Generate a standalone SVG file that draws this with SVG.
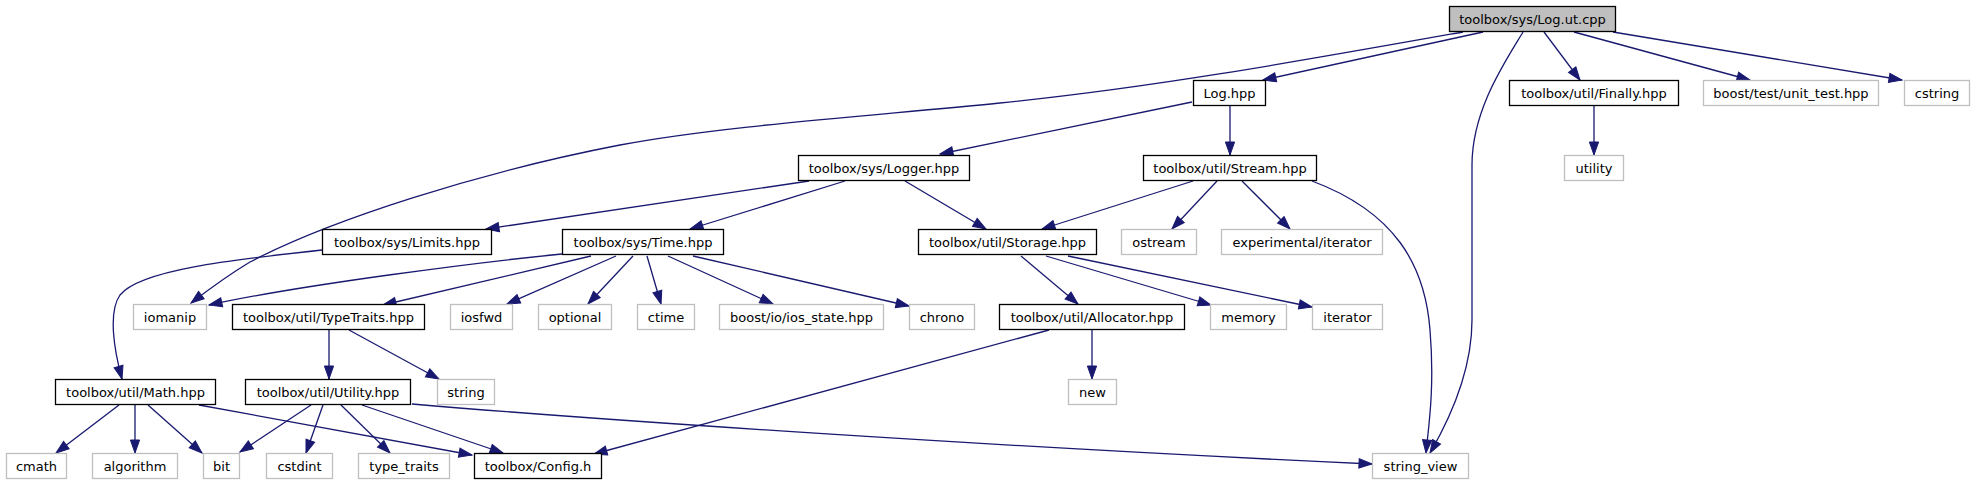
<svg xmlns="http://www.w3.org/2000/svg" width="1975" height="485" viewBox="0 0 1975 485">
<style>
.n rect{fill:#fff;stroke:#000;stroke-width:1.3}
.e rect{fill:#fff;stroke:#bfbfbf;stroke-width:1.3}
.r rect{fill:#bfbfbf;stroke:#000;stroke-width:1.3}
text{font-family:"DejaVu Sans","Liberation Sans",sans-serif;font-size:13px;fill:#000;text-anchor:middle}
#edges path{fill:none;stroke:#191970;stroke-width:1.3;marker-end:url(#a)}
</style>
<defs>
<marker id="a" markerUnits="userSpaceOnUse" markerWidth="14" markerHeight="10" refX="13" refY="5" orient="auto" viewBox="0 0 14 10" overflow="visible">
<path d="M0,0.4 L13,5 L0,9.6z" fill="#191970" stroke="#191970" stroke-width="1"/>
</marker>
</defs>
<rect width="1975" height="485" fill="#fff"/>
<g id="edges">
<path d="M1463,32 C1300,61 1150,88 1000,103 C870,116 720,126 620,145 C480,172 330,220 250,262 C230,274 208,290 191,303"/>
<path d="M1483,32 L1263,80"/>
<path d="M1523,32 C1505,62 1472,110 1472,165 L1472,320 C1472,365 1455,410 1430,453"/>
<path d="M1544,32 L1580,80"/>
<path d="M1574,32 L1750,80"/>
<path d="M1613,32 L1902,80"/>
<path d="M1192,102 L940,154"/>
<path d="M1230,106 L1230,155"/>
<path d="M1594,106 L1594,155"/>
<path d="M809,181 L486,229"/>
<path d="M845,181 L690,229"/>
<path d="M905,181 L986,229"/>
<path d="M1193,181 L1042,229"/>
<path d="M1217,181 L1172,229"/>
<path d="M1242,181 L1290,229"/>
<path d="M1312,181 C1395,212 1425,265 1430,330 C1435,390 1428,430 1426,453"/>
<path d="M322,250 C230,260 140,270 120,295 C108,312 114,350 122,379"/>
<path d="M562,254 C480,262 300,285 209,305"/>
<path d="M591,256 L383,305"/>
<path d="M616,256 L507,304"/>
<path d="M633,256 L588,304"/>
<path d="M647,256 L661,304"/>
<path d="M668,256 L773,304"/>
<path d="M693,256 L909,306"/>
<path d="M1021,256 L1078,304"/>
<path d="M1046,256 L1211,305"/>
<path d="M1068,256 L1312,307"/>
<path d="M329,330 L329,379"/>
<path d="M349,330 L439,379"/>
<path d="M1092,330 L1092,379"/>
<path d="M1049,330 L594,454"/>
<path d="M119,405 L56,453"/>
<path d="M135,405 L135,453"/>
<path d="M148,405 L202,453"/>
<path d="M199,405 L472,455"/>
<path d="M311,405 L240,452"/>
<path d="M323,405 L306,453"/>
<path d="M341,405 L390,453"/>
<path d="M362,405 L503,453"/>
<path d="M412,404 C600,420 1000,447 1372,464"/>
</g>
<g id="n_log_ut" class="r"><rect x="1449.5" y="6.5" width="166" height="25"/><text x="1532.5" y="23.5">toolbox/sys/Log.ut.cpp</text></g>
<g id="n_log_hpp" class="n"><rect x="1193.5" y="80.5" width="72" height="25"/><text x="1229.5" y="97.5">Log.hpp</text></g>
<g id="n_finally" class="n"><rect x="1509.5" y="80.5" width="169" height="25"/><text x="1594" y="97.5">toolbox/util/Finally.hpp</text></g>
<g id="n_unit_test" class="e"><rect x="1703.5" y="80.5" width="175" height="25"/><text x="1791" y="97.5">boost/test/unit_test.hpp</text></g>
<g id="n_cstring" class="e"><rect x="1904.5" y="80.5" width="65" height="25"/><text x="1937" y="97.5">cstring</text></g>
<g id="n_logger" class="n"><rect x="798.5" y="155.5" width="171" height="25"/><text x="884" y="172.5">toolbox/sys/Logger.hpp</text></g>
<g id="n_stream" class="n"><rect x="1143.5" y="155.5" width="173" height="25"/><text x="1230" y="172.5">toolbox/util/Stream.hpp</text></g>
<g id="n_utility" class="e"><rect x="1564.5" y="155.5" width="59" height="25"/><text x="1594" y="172.5">utility</text></g>
<g id="n_limits" class="n"><rect x="322.5" y="229.5" width="169" height="25"/><text x="407" y="246.5">toolbox/sys/Limits.hpp</text></g>
<g id="n_time" class="n"><rect x="562.5" y="229.5" width="161" height="25"/><text x="643" y="246.5">toolbox/sys/Time.hpp</text></g>
<g id="n_storage" class="n"><rect x="918.5" y="229.5" width="178" height="25"/><text x="1007.5" y="246.5">toolbox/util/Storage.hpp</text></g>
<g id="n_ostream" class="e"><rect x="1121.5" y="229.5" width="75" height="25"/><text x="1159" y="246.5">ostream</text></g>
<g id="n_exp_iterator" class="e"><rect x="1221.5" y="229.5" width="161" height="25"/><text x="1302" y="246.5">experimental/iterator</text></g>
<g id="n_iomanip" class="e"><rect x="133.5" y="304.5" width="73" height="25"/><text x="170" y="321.5">iomanip</text></g>
<g id="n_typetraits" class="n"><rect x="232.5" y="304.5" width="192" height="25"/><text x="328.5" y="321.5">toolbox/util/TypeTraits.hpp</text></g>
<g id="n_iosfwd" class="e"><rect x="450.5" y="304.5" width="62" height="25"/><text x="481.5" y="321.5">iosfwd</text></g>
<g id="n_optional" class="e"><rect x="538.5" y="304.5" width="73" height="25"/><text x="575" y="321.5">optional</text></g>
<g id="n_ctime" class="e"><rect x="637.5" y="304.5" width="57" height="25"/><text x="666" y="321.5">ctime</text></g>
<g id="n_ios_state" class="e"><rect x="719.5" y="304.5" width="164" height="25"/><text x="801.5" y="321.5">boost/io/ios_state.hpp</text></g>
<g id="n_chrono" class="e"><rect x="909.5" y="304.5" width="65" height="25"/><text x="942" y="321.5">chrono</text></g>
<g id="n_allocator" class="n"><rect x="999.5" y="304.5" width="185" height="25"/><text x="1092" y="321.5">toolbox/util/Allocator.hpp</text></g>
<g id="n_memory" class="e"><rect x="1210.5" y="304.5" width="76" height="25"/><text x="1248.5" y="321.5">memory</text></g>
<g id="n_iterator" class="e"><rect x="1312.5" y="304.5" width="70" height="25"/><text x="1347.5" y="321.5">iterator</text></g>
<g id="n_math" class="n"><rect x="55.5" y="379.5" width="160" height="25"/><text x="135.5" y="396.5">toolbox/util/Math.hpp</text></g>
<g id="n_utility_hpp" class="n"><rect x="245.5" y="379.5" width="165" height="25"/><text x="328" y="396.5">toolbox/util/Utility.hpp</text></g>
<g id="n_string" class="e"><rect x="437.5" y="379.5" width="57" height="25"/><text x="466" y="396.5">string</text></g>
<g id="n_new" class="e"><rect x="1068.5" y="379.5" width="48" height="25"/><text x="1092.5" y="396.5">new</text></g>
<g id="n_cmath" class="e"><rect x="6.5" y="453.5" width="60" height="25"/><text x="36.5" y="470.5">cmath</text></g>
<g id="n_algorithm" class="e"><rect x="92.5" y="453.5" width="85" height="25"/><text x="135" y="470.5">algorithm</text></g>
<g id="n_bit" class="e"><rect x="203.5" y="453.5" width="36" height="25"/><text x="221.5" y="470.5">bit</text></g>
<g id="n_cstdint" class="e"><rect x="266.5" y="453.5" width="66" height="25"/><text x="299.5" y="470.5">cstdint</text></g>
<g id="n_type_traits" class="e"><rect x="358.5" y="453.5" width="91" height="25"/><text x="404" y="470.5">type_traits</text></g>
<g id="n_config" class="n"><rect x="474.5" y="453.5" width="127" height="25"/><text x="538" y="470.5">toolbox/Config.h</text></g>
<g id="n_string_view" class="e"><rect x="1372.5" y="453.5" width="96" height="25"/><text x="1420.5" y="470.5">string_view</text></g>
</svg>
